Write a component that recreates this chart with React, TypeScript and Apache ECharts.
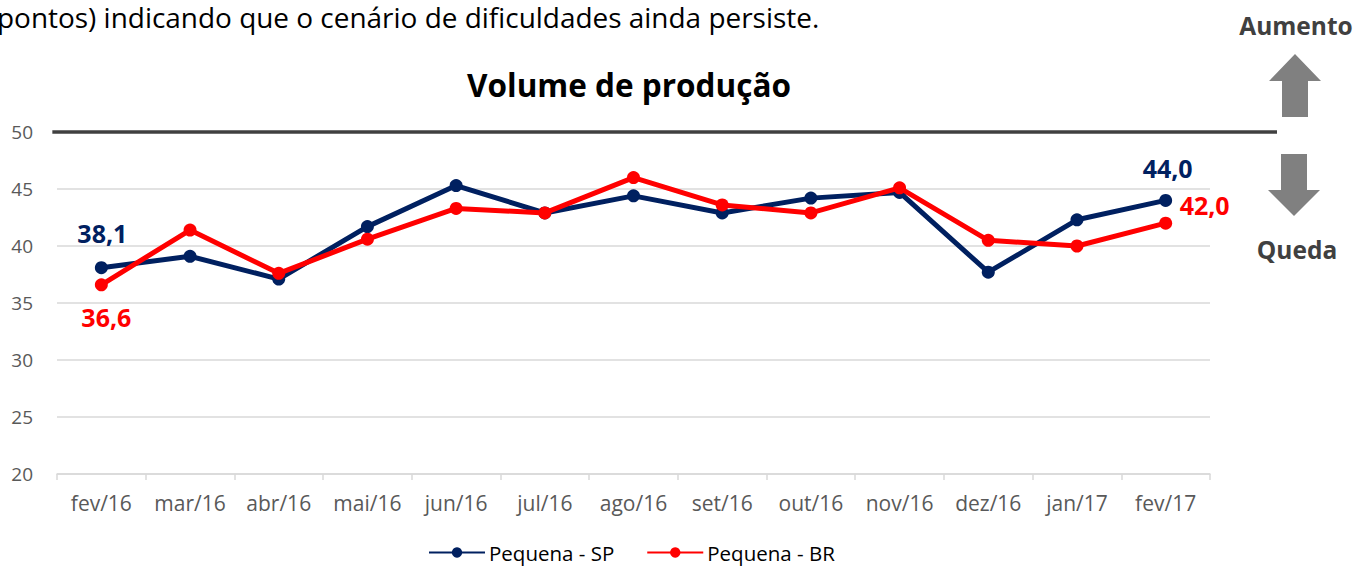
import React, { useEffect, useRef } from "react";
import * as echarts from "echarts";

const categories = ["fev/16", "mar/16", "abr/16", "mai/16", "jun/16", "jul/16", "ago/16", "set/16", "out/16", "nov/16", "dez/16", "jan/17", "fev/17"];
const seriesSP = [38.1, 39.1, 37.1, 41.7, 45.3, 42.9, 44.4, 42.9, 44.2, 44.7, 37.7, 42.3, 44.0];
const seriesBR = [36.6, 41.4, 37.6, 40.6, 43.3, 42.9, 46.0, 43.6, 42.9, 45.1, 40.5, 40.0, 42.0];
const seriesNames = ["Pequena - SP", "Pequena - BR"];
const yTicks = { min: 20, max: 50, interval: 5 };
const referenceValue = 50;

const FONT = "'Open Sans', Lato, sans-serif";
const NAVY = "#002060";
const RED = "#FF0000";

const fmt = (v: number) => v.toFixed(1).replace(".", ",");

export default function App() {
  const ref = useRef<HTMLDivElement>(null);
  useEffect(() => {
    document.body.style.margin = "0";
    const chart = echarts.init(ref.current!, undefined, { renderer: "svg" });
    const last = categories.length - 1;
    const mkData = (arr: number[], firstLabel: any, lastLabel: any) =>
      arr.map((v, i) => {
        if (i === 0) return { value: v, label: firstLabel };
        if (i === last) return { value: v, label: lastLabel };
        return v;
      });
    const lblBase = {
      show: true,
      fontFamily: FONT,
      fontWeight: "bold" as const,
      fontSize: 25,
      formatter: (p: any) => fmt(p.value),
    };
    chart.setOption({
      animation: false,
      title: {
        text: "Volume de produção",
        left: 624,
        textAlign: "center",
        top: 63,
        textStyle: { fontFamily: FONT, fontSize: 31.5, fontWeight: "bold", color: "#000" },
      },
      legend: {
        data: seriesNames,
        top: 542,
        left: 428,
        itemWidth: 56,
        itemHeight: 13,
        itemGap: 32,
        padding: 0,
        textStyle: { fontFamily: FONT, fontSize: 20.5, color: "#000", padding: [0, 0, 0, -1] },
      },
      grid: { left: 57, right: 158, top: 132, bottom: 92 },
      xAxis: {
        type: "category",
        data: categories,
        boundaryGap: true,
        axisLine: { lineStyle: { color: "#d9d9d9", width: 1.5 } },
        axisTick: { show: true, length: 6, lineStyle: { color: "#d9d9d9", width: 1.5 } },
        axisLabel: { interval: 0, fontFamily: FONT, fontSize: 21, color: "#595959", margin: 18 },
      },
      yAxis: {
        type: "value",
        min: yTicks.min,
        max: yTicks.max,
        interval: yTicks.interval,
        axisLine: { show: false },
        axisTick: { show: false },
        axisLabel: { fontFamily: FONT, fontSize: 19, color: "#595959", margin: 24 },
        splitLine: { lineStyle: { color: "#d9d9d9", width: 1.5 } },
      },
      series: [
        {
          name: seriesNames[0],
          type: "line",
          data: mkData(
            seriesSP,
            { ...lblBase, color: NAVY, position: "top", offset: [1, -11] },
            { ...lblBase, color: NAVY, position: "top", offset: [2, -8] }
          ),
          lineStyle: { color: NAVY, width: 5 },
          itemStyle: { color: NAVY },
          symbol: "circle",
          symbolSize: 13,
          z: 3,
        },
        {
          name: seriesNames[1],
          type: "line",
          data: mkData(
            seriesBR,
            { ...lblBase, color: RED, position: "bottom", offset: [5, 8] },
            { ...lblBase, color: RED, position: "top", offset: [39, 6] }
          ),
          lineStyle: { color: RED, width: 5 },
          itemStyle: { color: RED },
          symbol: "circle",
          symbolSize: 13,
          z: 4,
        },
      ],
    });
    const y50 = chart.convertToPixel({ yAxisIndex: 0 }, referenceValue) as number;
    const x0 = chart.convertToPixel({ xAxisIndex: 0 }, categories[0]) as number;
    const gray = "#808080";
    chart.setOption({
      graphic: [
        {
          type: "line",
          shape: { x1: x0 - 49, y1: y50, x2: 1277, y2: y50 },
          style: { stroke: "#404040", lineWidth: 3.5 },
          z: 10,
        },
        {
          type: "text",
          x: -3,
          y: 18,
          scaleX: 1.055,
          style: {
            text: "pontos) indicando que o cenário de dificuldades ainda persiste.",
            fontFamily: FONT,
            fontSize: 26.5,
            fill: "#000",
            textVerticalAlign: "middle",
          },
        },
        {
          type: "text",
          x: 1296,
          y: 25,
          style: { text: "Aumento", fontFamily: FONT, fontSize: 24.5, fontWeight: "bold", fill: "#404040", textAlign: "center", textVerticalAlign: "middle" },
        },
        {
          type: "text",
          x: 1297,
          y: 249,
          style: { text: "Queda", fontFamily: FONT, fontSize: 24.5, fontWeight: "bold", fill: "#404040", textAlign: "center", textVerticalAlign: "middle" },
        },
        {
          type: "polygon",
          shape: { points: [[1295, 54], [1321, 81], [1308, 81], [1308, 117], [1282, 117], [1282, 81], [1269, 81]] },
          style: { fill: gray },
        },
        {
          type: "polygon",
          shape: { points: [[1281, 154], [1307, 154], [1307, 190], [1320, 190], [1294, 216], [1268, 190], [1281, 190]] },
          style: { fill: gray },
        },
      ],
    });
    return () => chart.dispose();
  }, []);
  return <div ref={ref} style={{ width: 1368, height: 566, position: "absolute", left: 0, top: 0 }} />;
}
